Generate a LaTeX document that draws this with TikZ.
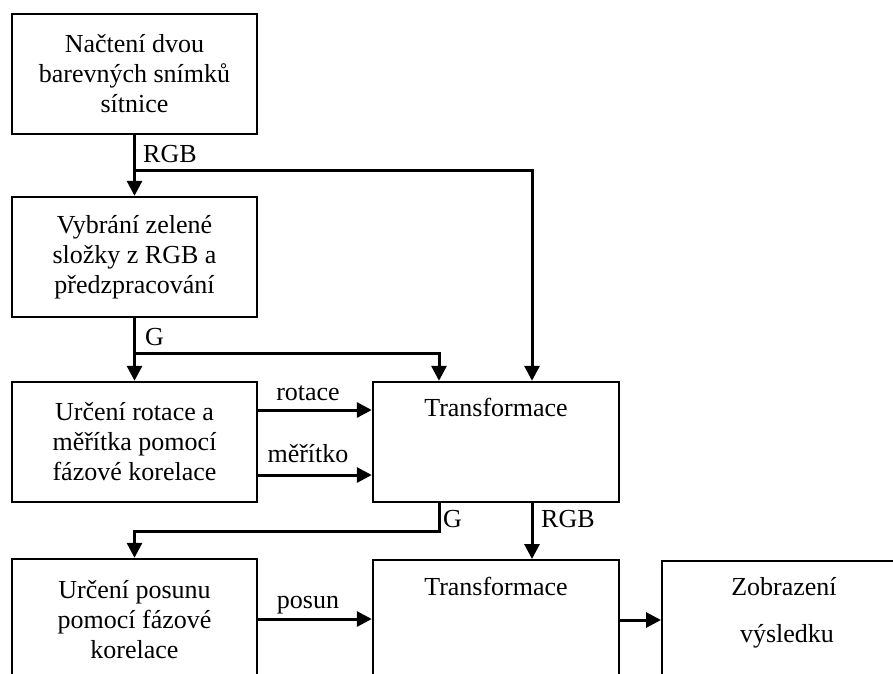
\documentclass[tikz,border=0pt]{standalone}
\usepackage{fontspec}
\setmainfont{Liberation Serif}
\usetikzlibrary{arrows.meta,calc}
\begin{document}
\begin{tikzpicture}[x=1pt,y=-1pt,
  box/.style={draw,line width=2.4pt,minimum width=245pt,inner sep=0pt,align=center,font=\fontsize{26}{30}\selectfont},
  txt/.style={font=\fontsize{26}{30}\selectfont,inner sep=0pt},
  conn/.style={line width=3pt},
  arr/.style={conn,-{Triangle[length=15pt,width=15pt]}}]
\useasboundingbox (0,0) rectangle (893,673);
\clip (0,0) rectangle (893,673);
% boxes
\node[box,minimum height=120pt] (b1) at (134.5,74) {Načtení dvou\\barevných snímků\\sítnice};
\node[box,minimum height=120pt] (b2) at (134.5,257) {Vybrání zelené\\složky z RGB a\\předzpracování};
\node[box,minimum height=120pt] (b3) at (134.5,442) {Určení rotace a\\měřítka pomocí\\fázové korelace};
\node[box,minimum width=246pt,minimum height=120pt] (t1) at (496,442) {};
\node[txt,anchor=base] (t1t) at (496,416) {Transformace};
\node[box,minimum height=122pt] (b4) at (134.5,620) {Určení posunu\\pomocí fázové\\korelace};
\node[box,minimum width=246pt,minimum height=160pt,anchor=north] (t2) at (496,559) {};
\node[txt,anchor=base] (t2t) at (496,595) {Transformace};
\node[box,minimum width=300pt,minimum height=160pt,anchor=north west] (z) at (661,560) {};
\node[txt,anchor=base] (z1) at (784,595) {Zobrazení};
\node[txt,anchor=base] (z2) at (787,642) {výsledku};
% helper coordinates
\coordinate (j1) at (134.5,170);
\coordinate (j2) at (134.5,353);
\coordinate (j3) at (439,531);
\coordinate (rgbx) at (532,0);
\coordinate (gx) at (439,0);
\coordinate (yrot) at (0,410);
\coordinate (ymer) at (0,475);
\coordinate (ypos) at (0,619);
\coordinate (yz) at (0,620);
% connectors
\draw[arr] (b1.south) -- (b2.north);
\draw[arr] (j1) -| (t1.north -| rgbx);
\draw[arr] (b2.south) -- (b3.north);
\draw[arr] (j2) -| (t1.north -| gx);
\draw[arr] (b3.east |- yrot) -- (t1.west |- yrot);
\draw[arr] (b3.east |- ymer) -- (t1.west |- ymer);
\draw[arr] (t1.south -| gx) -- (j3) -| (b4.north);
\draw[arr] (t1.south -| rgbx) -- (t2.north -| rgbx);
\draw[arr] (b4.east |- ypos) -- (t2.west |- ypos);
\draw[arr] (t2.east |- yz) -- (z.west |- yz);
% labels
\node[txt,anchor=base west] (l1) at (143,162) {RGB};
\node[txt,anchor=base west] (l2) at (145,345) {G};
\node[txt,anchor=base] (l3) at (308,400) {rotace};
\node[txt,anchor=base] (l4) at (308,462) {měřítko};
\node[txt,anchor=base west] (l5) at (443,527) {G};
\node[txt,anchor=base west] (l6) at (541,527) {RGB};
\node[txt,anchor=base] (l7) at (308,608) {posun};
\end{tikzpicture}
\end{document}
